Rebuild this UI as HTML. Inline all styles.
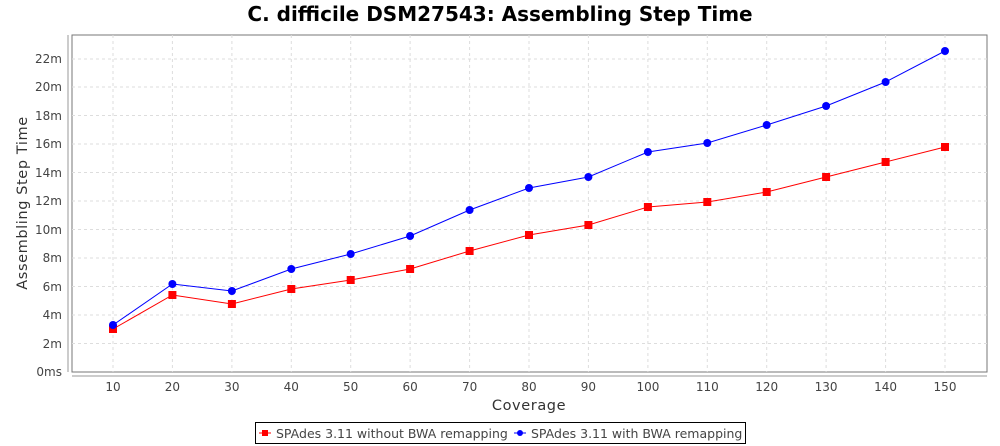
<!DOCTYPE html>
<html><head><style>body{margin:0;background:#fff}svg{display:block}</style></head><body>
<svg width="1000" height="446" xmlns="http://www.w3.org/2000/svg" font-family="'DejaVu Sans', sans-serif">
<rect width="1000" height="446" fill="#fff"/>
<text x="500" y="21" text-anchor="middle" font-size="20" font-weight="bold" fill="#000">C. difficile DSM27543: Assembling Step Time</text>
<rect x="72" y="35" width="915" height="337" fill="#fff" stroke="#777" stroke-width="1"/>
<g stroke="#ddd" stroke-dasharray="3,3" stroke-width="1">
<line x1="72" x2="987" y1="343.5" y2="343.5"/><line x1="72" x2="987" y1="315" y2="315"/><line x1="72" x2="987" y1="286.5" y2="286.5"/><line x1="72" x2="987" y1="258" y2="258"/><line x1="72" x2="987" y1="229.5" y2="229.5"/><line x1="72" x2="987" y1="201" y2="201"/><line x1="72" x2="987" y1="172.5" y2="172.5"/><line x1="72" x2="987" y1="144" y2="144"/><line x1="72" x2="987" y1="115.5" y2="115.5"/><line x1="72" x2="987" y1="87" y2="87"/><line x1="72" x2="987" y1="59" y2="59"/>
<line y1="35" y2="372" x1="113" x2="113"/><line y1="35" y2="372" x1="172.4" x2="172.4"/><line y1="35" y2="372" x1="231.9" x2="231.9"/><line y1="35" y2="372" x1="291.3" x2="291.3"/><line y1="35" y2="372" x1="350.7" x2="350.7"/><line y1="35" y2="372" x1="410.1" x2="410.1"/><line y1="35" y2="372" x1="469.6" x2="469.6"/><line y1="35" y2="372" x1="529" x2="529"/><line y1="35" y2="372" x1="588.4" x2="588.4"/><line y1="35" y2="372" x1="647.9" x2="647.9"/><line y1="35" y2="372" x1="707.3" x2="707.3"/><line y1="35" y2="372" x1="766.7" x2="766.7"/><line y1="35" y2="372" x1="826.1" x2="826.1"/><line y1="35" y2="372" x1="885.6" x2="885.6"/><line y1="35" y2="372" x1="945" x2="945"/>
</g>
<line x1="68" y1="35" x2="68" y2="372" stroke="#999"/>
<line x1="72" y1="376" x2="987" y2="376" stroke="#999"/>
<g font-size="12" fill="#444" text-anchor="end">
<text x="62" y="376">0ms</text><text x="62" y="348">2m</text><text x="62" y="319">4m</text><text x="62" y="291">6m</text><text x="62" y="262">8m</text><text x="62" y="234">10m</text><text x="62" y="205">12m</text><text x="62" y="177">14m</text><text x="62" y="148">16m</text><text x="62" y="120">18m</text><text x="62" y="91">20m</text><text x="62" y="63">22m</text>
</g>
<g font-size="12" fill="#444" text-anchor="middle">
<text x="113" y="391">10</text><text x="172.4" y="391">20</text><text x="231.9" y="391">30</text><text x="291.3" y="391">40</text><text x="350.7" y="391">50</text><text x="410.1" y="391">60</text><text x="469.6" y="391">70</text><text x="529" y="391">80</text><text x="588.4" y="391">90</text><text x="647.9" y="391">100</text><text x="707.3" y="391">110</text><text x="766.7" y="391">120</text><text x="826.1" y="391">130</text><text x="885.6" y="391">140</text><text x="945" y="391">150</text>
</g>
<text x="529" y="410" text-anchor="middle" font-size="14.5" font-weight="500" letter-spacing="0.6" fill="#333">Coverage</text>
<text transform="translate(27,203) rotate(-90)" text-anchor="middle" font-size="14.5" letter-spacing="0.6" fill="#333">Assembling Step Time</text>
<polyline fill="none" stroke="#f00" stroke-width="1" points="113,329 172.4,295 231.9,304 291.3,289 350.7,280 410.1,269 469.6,251 529,235 588.4,225 647.9,207 707.3,202 766.7,192 826.1,177 885.6,162 945,147"/>
<polyline fill="none" stroke="#00f" stroke-width="1" points="113,325 172.4,284 231.9,291 291.3,269 350.7,254 410.1,236 469.6,210 529,188 588.4,177 647.9,152 707.3,143 766.7,125 826.1,106 885.6,82 945,51"/>
<g fill="#f00">
<rect x="109" y="325" width="8" height="8"/><rect x="168.4" y="291" width="8" height="8"/><rect x="227.9" y="300" width="8" height="8"/><rect x="287.3" y="285" width="8" height="8"/><rect x="346.7" y="276" width="8" height="8"/><rect x="406.1" y="265" width="8" height="8"/><rect x="465.6" y="247" width="8" height="8"/><rect x="525" y="231" width="8" height="8"/><rect x="584.4" y="221" width="8" height="8"/><rect x="643.9" y="203" width="8" height="8"/><rect x="703.3" y="198" width="8" height="8"/><rect x="762.7" y="188" width="8" height="8"/><rect x="822.1" y="173" width="8" height="8"/><rect x="881.6" y="158" width="8" height="8"/><rect x="941" y="143" width="8" height="8"/>
</g>
<g fill="#00f">
<circle cx="113" cy="325" r="4"/><circle cx="172.4" cy="284" r="4"/><circle cx="231.9" cy="291" r="4"/><circle cx="291.3" cy="269" r="4"/><circle cx="350.7" cy="254" r="4"/><circle cx="410.1" cy="236" r="4"/><circle cx="469.6" cy="210" r="4"/><circle cx="529" cy="188" r="4"/><circle cx="588.4" cy="177" r="4"/><circle cx="647.9" cy="152" r="4"/><circle cx="707.3" cy="143" r="4"/><circle cx="766.7" cy="125" r="4"/><circle cx="826.1" cy="106" r="4"/><circle cx="885.6" cy="82" r="4"/><circle cx="945" cy="51" r="4"/>
</g>
<rect x="255.5" y="422.5" width="490" height="21" fill="#fff" stroke="#000"/>
<line x1="259" x2="271" y1="433" y2="433" stroke="#f00"/><rect x="262" y="430" width="6" height="6" fill="#f00"/>
<text x="276" y="438" font-size="12.5" fill="#444">SPAdes 3.11 without BWA remapping</text>
<line x1="514" x2="526" y1="433" y2="433" stroke="#00f"/><circle cx="520" cy="433" r="3" fill="#00f"/>
<text x="531" y="438" font-size="12.5" fill="#444">SPAdes 3.11 with BWA remapping</text>
</svg>
</body></html>
